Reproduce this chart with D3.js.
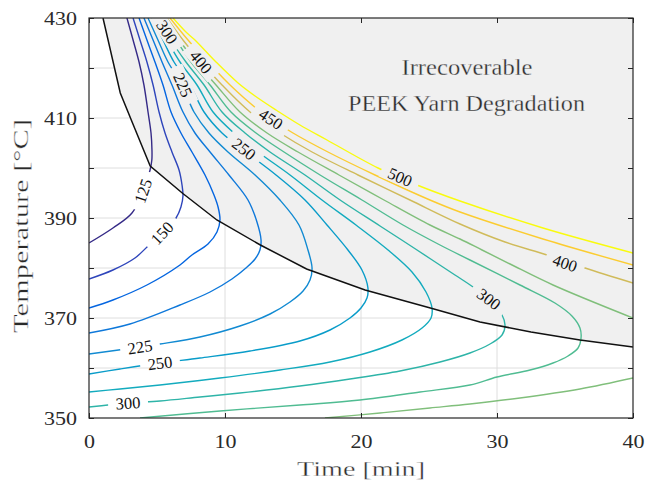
<!DOCTYPE html>
<html><head><meta charset="utf-8">
<script src="https://cdn.jsdelivr.net/npm/d3@7"></script>
<style>body{margin:0;background:#fff}</style>
</head><body>
<svg id="chart" width="651" height="489"></svg>
<script>
// ---------- data ----------
const xTicks = [0, 10, 20, 30, 40];
const yTicks = [350, 360, 370, 380, 390, 400, 410, 420, 430];
const yTickLabels = [350, 370, 390, 410, 430];
const levels = [125, 150, 175, 200, 225, 250, 275, 300, 325, 350, 400, 450, 500];

// contour lines, [time (min), temperature (°C)]
const c125 = [[2.79,430],[3.24,425.6],[3.68,421.2],[4.04,416.6],[4.34,411.2],[4.56,407],[4.63,403.6],[4.62,401.6],[4.49,399.6],[3.97,395.4],[3.16,391],[1.76,388],[0,385]];
const c150 = [[3.24,430],[3.75,425.6],[4.26,421.2],[4.71,416.6],[5.15,411.2],[5.59,407],[6.1,403.2],[6.62,399.6],[6.84,396.6],[6.91,394.4],[6.76,392.2],[6.4,390],[5.37,387],[4.49,384.8],[3.38,382],[1.76,379.6],[0,377.8]];
const c175 = [[3.68,430],[4.26,425.6],[4.85,421.2],[5.44,416.6],[6.03,411.2],[6.76,407],[7.57,403.2],[8.53,398.6],[9.19,394.6],[9.49,392.2],[9.63,389.6],[9.41,387.2],[8.75,384.8],[7.57,382.6],[6.69,380.6],[4.26,376.6],[1.76,373.6],[0,372]];
const c200 = [[4.04,430],[4.71,425.6],[5.37,421.2],[6.1,416.6],[6.91,411.2],[7.79,407],[8.9,403.2],[10.29,398.6],[11.69,393.6],[12.35,389.2],[12.65,385.6],[12.57,383.6],[12.21,381.8],[11.54,380],[10.51,377.8],[8.9,375.2],[6.69,372.6],[3.01,368.8],[0,367]];
const c225 = [[4.34,430],[5.07,425.6],[5.81,421.2],[6.84,416.6],[7.72,411.2],[8.82,407],[10.22,403.2],[12.21,398.6],[14.04,393.6],[15.44,388.6],[16.1,383.6],[16.4,380],[16.25,377.6],[15.74,375.4],[14.78,373.2],[13.31,370.8],[11.1,368.4],[8.16,366.2],[5.22,364.8],[3.75,364.2],[0,362.8]];
const c250 = [[4.63,430],[5.44,425.6],[6.25,421.2],[7.43,416.6],[8.46,411.2],[9.78,407],[11.54,403.2],[13.75,398.6],[15.88,393.6],[17.5,388.6],[19.04,383.6],[20.07,379.6],[20.51,376],[20.44,374],[20.0,372],[19.19,370],[17.72,367.6],[15.51,365.4],[11.84,363.4],[8.16,362],[5.22,361],[2.28,359.8],[0,358.8]];
const c275 = [[4.85,430],[5.74,425.6],[6.69,421.2],[7.94,416.6],[9.12,411.2],[10.66,407],[12.43,403.2],[14.78,398.6],[17.13,393.6],[19.63,388.6],[21.99,383.6],[23.75,379.2],[24.78,375.2],[25.22,372],[25.15,370],[24.49,368],[23.01,365.6],[20.66,363.2],[17.72,361.2],[14.04,359.6],[9.63,358],[5.22,356.6],[2.28,355.8],[0,355.2]];
const c300 = [[5.07,430],[5.74,427.2],[6.03,425.6],[7.13,421.2],[8.46,416.6],[9.78,411.2],[11.47,407],[13.31,403.2],[15.88,398.6],[18.46,393.6],[21.4,388.4],[24.12,383.6],[26.91,378.6],[28.24,376.2],[29.41,373.8],[30.37,370.6],[30.59,368.6],[30.37,366.6],[29.49,364.8],[28.01,363],[25.81,361.2],[22.87,359.4],[19.19,357.8],[15.51,356.4],[11.1,355],[8.16,354.2],[5.22,353.4],[2.87,353],[0,352.2]];
const c325 = [[5.29,430],[6.4,425.6],[7.5,421.2],[8.9,416.6],[10.44,411.2],[12.28,407],[14.34,403.2],[16.99,398.6],[20.07,393.6],[23.09,388.6],[25.81,384.6],[28.01,381.6],[31.69,376.6],[34.26,373],[35.51,370.4],[36.1,368],[36.18,366],[35.96,364],[35.22,362.4],[34.12,361],[32.43,359.6],[30.0,358.2],[28.01,356.6],[24.34,355.2],[19.93,353.6],[15.51,352.6],[9.63,351.4],[3.75,350]];
const c350Low = [[17.35,350],[21.4,351],[25.07,352],[28.01,352.8],[31.69,354],[36.1,355.8],[40,358]];
const c350Up = [[5.51,430],[6.62,425.6],[7.87,421.2],[9.34,416.6],[11.1,411.2],[13.09,407],[15.37,403.2],[18.38,398.6],[21.69,393.6],[25.07,388.6],[27.28,385.8],[28.9,383.6],[30.96,380.8],[34.12,376.6],[40,370]];
const c400Up = [[5.74,430],[6.91,425.6],[8.24,421.2],[9.78,416.6],[11.84,411.2],[14.04,407],[16.4,403.2],[19.78,398.6],[23.6,393.6],[27.28,388.8],[30.59,385.2],[33.68,382.6],[36.47,380],[40,377]];
const c450Up = [[5.96,430],[7.28,425.6],[8.75,421.2],[10.37,416.6],[12.65,411.2],[15.0,407],[17.57,403.2],[21.03,398.6],[25.07,393.6],[27.28,391.2],[33.38,385.8],[40,380.6]];
const c500Up = [[6.18,430],[7.13,427.2],[7.79,425.6],[9.34,421.2],[10.96,417],[12.21,414.4],[13.75,411.6],[15.51,408.6],[17.5,405.6],[21.25,400],[24.12,396.6],[27.28,393.4],[33.38,388],[40,383]];

// degradation boundary
const boundary = [[1.03,430],[2.3,415],[3.2,409],[4.5,400.4],[6.9,394.9],[9.4,389.6],[12.6,384.6],[16.0,379.8],[20.3,375.6],[25.1,372],[28.75,369.2],[32.5,367.2],[36.1,365.6],[40,364.2]];

// inline contour labels
const labelLevels = [125, 150, 225, 250, 300, 300, 225, 250, 400, 450, 500, 400, 300];
const labelPoints = [[3.97,395.4],[5.37,387],[3.75,364.2],[5.22,361],[2.87,353],[5.74,427.2],[6.91,416.6],[11.4,403.8],[8.24,421.2],[13.38,409.8],[22.87,398.2],[35,381],[29.41,373.8]];

const annotation = ["Irrecoverable", "PEEK Yarn Degradation"];
const xLabel = "Time [min]";
const yLabel = "Temperature [°C]";

// ---------- drawing ----------
const pieces = [
  {level:125, pts:c125},{level:150, pts:c150},{level:175, pts:c175},{level:200, pts:c200},
  {level:225, pts:c225},{level:250, pts:c250},{level:275, pts:c275},{level:300, pts:c300},
  {level:325, pts:c325},{level:350, pts:c350Low},{level:350, pts:c350Up},
  {level:400, pts:c400Up},{level:450, pts:c450Up},{level:500, pts:c500Up}
];

const svg = d3.select("#chart");
const L = 89, R = 633, T = 18, B = 418;
const x = d3.scaleLinear().domain([0, 40]).range([L, R]);
const y = d3.scaleLinear().domain([350, 430]).range([B, T]);
const serif = "'Liberation Serif', 'Times New Roman', serif";
const ink = "#2a2a2a";

// parula colormap
const parula = ["#352a87","#3143b8","#0363e1","#0d75dc","#1485d4","#0a97cb","#06a7c6","#26b0b1","#38b99e","#65be88","#92bf73","#b7bd64","#d9ba56","#f3be40","#fcce2e","#f5e21b","#f9fb0e"];
const color = d3.scaleLinear()
  .domain(d3.range(parula.length).map(i => levels[0] + i * (levels[levels.length-1] - levels[0]) / (parula.length - 1)))
  .range(parula).interpolate(d3.interpolateRgb);

svg.append("rect").attr("width", 651).attr("height", 489).attr("fill", "#fff");

const defs = svg.append("defs");
defs.append("clipPath").attr("id", "clip").append("rect")
  .attr("x", L).attr("y", T).attr("width", R - L).attr("height", B - T);

// grid
const grid = svg.append("g").attr("stroke", "#dedede").attr("stroke-width", 1);
grid.selectAll("line.h").data(yTicks.slice(1, -1)).join("line")
  .attr("x1", L).attr("x2", R).attr("y1", d => y(d)).attr("y2", d => y(d));
grid.selectAll("line.v").data(xTicks.slice(1, -1)).join("line")
  .attr("y1", T).attr("y2", B).attr("x1", d => x(d)).attr("x2", d => x(d));

// grey irrecoverable region
const regionPts = boundary.concat([[40, 430]]);
svg.append("path")
  .attr("d", d3.line().x(d => x(d[0])).y(d => y(d[1]))(regionPts) + "Z")
  .attr("fill", "#f0f0f0").attr("clip-path", "url(#clip)");

// contour label geometry
const line = d3.line().x(d => x(d[0])).y(d => y(d[1])).curve(d3.curveCatmullRom.alpha(0.5));
function angleAt(level, p) {
  const px = x(p[0]), py = y(p[1]);
  let best = 0, bd = Infinity;
  pieces.filter(q => q.level === level).forEach(q => {
    for (let i = 0; i < q.pts.length - 1; i++) {
      const ax = x(q.pts[i][0]), ay = y(q.pts[i][1]), bx = x(q.pts[i+1][0]), by = y(q.pts[i+1][1]);
      const dx = bx - ax, dy = by - ay;
      let tt = ((px - ax) * dx + (py - ay) * dy) / (dx * dx + dy * dy);
      tt = Math.max(0, Math.min(1, tt));
      const cx = ax + tt * dx, cy = ay + tt * dy;
      const dd = (cx - px) ** 2 + (cy - py) ** 2;
      if (dd < bd) { bd = dd; best = Math.atan2(dy, dx) * 180 / Math.PI; }
    }
  });
  if (best > 90) best -= 180;
  if (best < -90) best += 180;
  return best;
}
const labels = labelLevels.map((lv, i) => ({level: lv, p: labelPoints[i], a: angleAt(lv, labelPoints[i])}));

const mask = defs.append("mask").attr("id", "gapmask").attr("maskUnits", "userSpaceOnUse")
  .attr("x", 0).attr("y", 0).attr("width", 651).attr("height", 489);
mask.append("rect").attr("width", 651).attr("height", 489).attr("fill", "#fff");
mask.selectAll("rect.g").data(labels).join("rect")
  .attr("x", -20).attr("y", -8).attr("width", 40).attr("height", 16).attr("fill", "#000")
  .attr("transform", d => `translate(${x(d.p[0])},${y(d.p[1])}) rotate(${d.a})`);

// contours
const cg = svg.append("g").attr("clip-path", "url(#clip)").append("g").attr("mask", "url(#gapmask)");
cg.selectAll("path").data(pieces).join("path")
  .attr("d", d => line(d.pts))
  .attr("fill", "none").attr("stroke", d => color(d.level)).attr("stroke-width", 1.4);

// boundary line
svg.append("path").attr("clip-path", "url(#clip)")
  .attr("d", d3.line().x(d => x(d[0])).y(d => y(d[1]))(boundary))
  .attr("fill", "none").attr("stroke", "#111").attr("stroke-width", 1.5);

// contour labels
svg.append("g").selectAll("text").data(labels).join("text")
  .attr("transform", d => `translate(${x(d.p[0])},${y(d.p[1])}) rotate(${d.a})`)
  .attr("text-anchor", "middle").attr("dy", "0.35em")
  .attr("font-family", serif).attr("font-size", 16.5).attr("fill", "#111")
  .text(d => d.level);

// axes
const axisColor = "#262626";
const gx = svg.append("g").attr("transform", `translate(0,${B})`)
  .call(d3.axisBottom(x).tickValues(xTicks).tickSizeInner(-5).tickSizeOuter(0).tickPadding(17));
const gxTop = svg.append("g").attr("transform", `translate(0,${T})`)
  .call(d3.axisTop(x).tickValues(xTicks).tickSizeInner(-5).tickSizeOuter(0).tickFormat(""));
const gy = svg.append("g").attr("transform", `translate(${L},0)`)
  .call(d3.axisLeft(y).tickValues(yTicks).tickSizeInner(-5).tickSizeOuter(0).tickPadding(12)
    .tickFormat(d => yTickLabels.includes(d) ? d : ""));
const gyR = svg.append("g").attr("transform", `translate(${R},0)`)
  .call(d3.axisRight(y).tickValues(yTicks).tickSizeInner(-5).tickSizeOuter(0).tickFormat(""));
[gx, gxTop, gy, gyR].forEach(g => {
  g.select(".domain").remove();
  g.selectAll(".tick line").attr("stroke", axisColor);
  g.selectAll("text").attr("font-family", serif).attr("font-size", 19).attr("fill", ink)
    .each(function() { const s = this.textContent; if (s) d3.select(this).attr("textLength", 11 * s.length).attr("lengthAdjust", "spacingAndGlyphs"); });
});
svg.append("rect").attr("x", L).attr("y", T).attr("width", R - L).attr("height", B - T)
  .attr("fill", "none").attr("stroke", axisColor).attr("stroke-width", 1.2);

// axis titles (thin white halo lightens the stretched glyph stems)
svg.append("text").attr("x", 361).attr("y", 476).attr("text-anchor", "middle")
  .attr("font-family", serif).attr("font-size", 22).attr("fill", ink)
  .attr("stroke", "#fff").attr("stroke-width", 0.35)
  .attr("textLength", 128).attr("lengthAdjust", "spacingAndGlyphs").text(xLabel);
svg.append("text").attr("transform", "translate(28,226) rotate(-90)").attr("text-anchor", "middle")
  .attr("font-family", serif).attr("font-size", 22).attr("fill", ink)
  .attr("stroke", "#fff").attr("stroke-width", 0.35)
  .attr("textLength", 214).attr("lengthAdjust", "spacingAndGlyphs").text(yLabel);

// annotation
svg.append("text").attr("x", 467).attr("y", 75).attr("text-anchor", "middle")
  .attr("font-family", serif).attr("font-size", 23).attr("fill", ink)
  .attr("stroke", "#f0f0f0").attr("stroke-width", 0.3)
  .attr("textLength", 131).attr("lengthAdjust", "spacingAndGlyphs").text(annotation[0]);
svg.append("text").attr("x", 466.5).attr("y", 111).attr("text-anchor", "middle")
  .attr("font-family", serif).attr("font-size", 23).attr("fill", ink)
  .attr("stroke", "#f0f0f0").attr("stroke-width", 0.3)
  .attr("textLength", 237).attr("lengthAdjust", "spacingAndGlyphs").text(annotation[1]);
</script>
</body></html>
